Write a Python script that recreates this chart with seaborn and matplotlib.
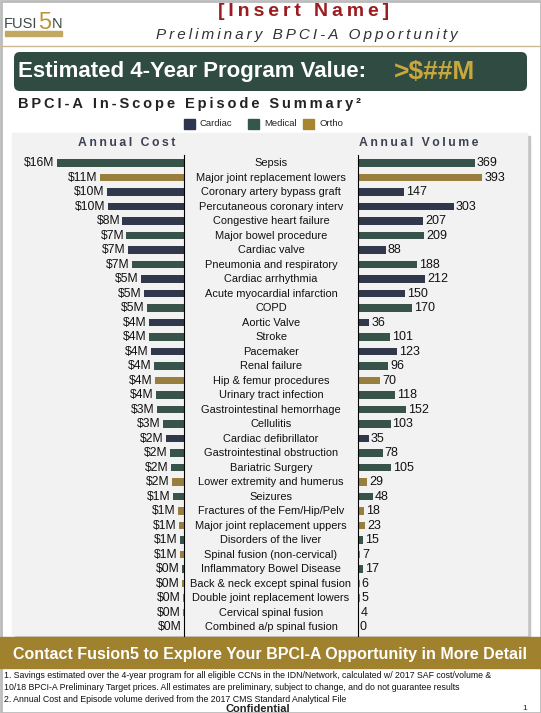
import pandas as pd
import matplotlib
matplotlib.use('Agg')
import matplotlib.pyplot as plt
import seaborn as sns
from matplotlib.patches import Rectangle, FancyBboxPatch
from matplotlib.transforms import blended_transform_factory

# Datos
episodes = ['Sepsis', 'Major joint replacement lowers', 'Coronary artery bypass graft',
            'Percutaneous coronary interv', 'Congestive heart failure', 'Major bowel procedure',
            'Cardiac valve', 'Pneumonia and respiratory', 'Cardiac arrhythmia',
            'Acute myocardial infarction', 'COPD', 'Aortic Valve', 'Stroke', 'Pacemaker',
            'Renal failure', 'Hip & femur procedures', 'Urinary tract infection',
            'Gastrointestinal hemorrhage', 'Cellulitis', 'Cardiac defibrillator',
            'Gastrointestinal obstruction', 'Bariatric Surgery', 'Lower extremity and humerus',
            'Seizures', 'Fractures of the Fem/Hip/Pelv', 'Major joint replacement uppers',
            'Disorders of the liver', 'Spinal fusion (non-cervical)', 'Inflammatory Bowel Disease',
            'Back & neck except spinal fusion', 'Double joint replacement lowers',
            'Cervical spinal fusion', 'Combined a/p spinal fusion']
types = ['Medical', 'Ortho', 'Cardiac', 'Cardiac', 'Cardiac', 'Medical', 'Cardiac', 'Medical',
         'Cardiac', 'Cardiac', 'Medical', 'Cardiac', 'Medical', 'Cardiac', 'Medical', 'Ortho',
         'Medical', 'Medical', 'Medical', 'Cardiac', 'Medical', 'Medical', 'Ortho', 'Medical',
         'Ortho', 'Ortho', 'Medical', 'Ortho', 'Medical', 'Ortho', 'Ortho', 'Ortho', 'Ortho']
cost_m = [16.0, 10.6, 9.75, 9.6, 7.75, 7.25, 7.1, 6.6, 5.4, 5.1, 4.65, 4.4, 4.4, 4.15,
          3.75, 3.66, 3.54, 3.4, 2.67, 2.3, 1.8, 1.67, 1.55, 1.4, 0.75, 0.67, 0.55, 0.55,
          0.3, 0.27, 0.15, 0.15, 0.04]
volume = [369, 393, 147, 303, 207, 209, 88, 188, 212, 150, 170, 36, 101, 123, 96, 70, 118,
          152, 103, 35, 78, 105, 29, 48, 18, 23, 15, 7, 17, 6, 5, 4, 0]

df = pd.DataFrame({'Episode': episodes, 'Tipo': types, 'Costo': cost_m, 'Volumen': volume})
colores = {'Cardiac': '#2E3550', 'Medical': '#34574A', 'Ortho': '#A8852F'}

W, H = 541, 713
fig = plt.figure(figsize=(W / 100, H / 100), dpi=100)
plt.rcParams['font.family'] = ['Liberation Sans', 'DejaVu Sans']


def spaced(s, sep='\u2009'):
    return sep.join(s)


# Fondo en coordenadas de pixel
bg = fig.add_axes([0, 0, 1, 1])
bg.set_xlim(0, W)
bg.set_ylim(H, 0)
bg.axis('off')
bg.add_patch(Rectangle((0.5, 0.5), W - 1, H - 1, fill=False, ec='#BBBBBB', lw=2))

# Encabezado (logo)
bg.text(4, 28, 'FUSI', fontsize=10.5, color='#3D4A44', va='baseline')
bg.text(38.5, 29, '5', fontsize=17, color='#B8963A', va='baseline')
bg.text(52, 28, 'N', fontsize=10.5, color='#3D4A44', va='baseline')
bg.add_patch(Rectangle((5, 31), 57, 5, color='#C2A760'))

bg.text(304, 12, spaced('[Insert Name]'), fontsize=14, fontweight='bold', color='#9B1C1F',
        ha='center', va='center')
bg.text(307, 35, spaced('Preliminary BPCI-A Opportunity'), fontsize=11, style='italic',
        color='#333333', ha='center', va='center')
bg.plot([0, W], [46, 46], color='#C9BC93', lw=1)

bg.add_patch(FancyBboxPatch((14, 52), 513, 39, boxstyle='round,pad=0,rounding_size=6',
                            fc='#2F4B42', ec='none'))
bg.text(18, 72, 'Estimated 4-Year Program Value:', fontsize=16, fontweight='bold',
        color='white', va='center')
bg.text(394, 72, '>$##M', fontsize=19, fontweight='bold', color='#C8A83C', va='center')
bg.text(18, 104, spaced('BPCI-A In-Scope Episode Summary\u00b2'), fontsize=10.5,
        fontweight='bold', color='#222222', va='center')

# Leyenda
for x0, lab in [(184, 'Cardiac'), (248, 'Medical'), (303, 'Ortho')]:
    bg.add_patch(Rectangle((x0, 119), 11, 10, color=colores[lab]))
    bg.text(x0 + 16, 124, lab, fontsize=6.8, color='#222222', va='center')

# Panel gris
bg.add_patch(Rectangle((15, 136), 515, 502, color='#C4C4C4'))
bg.add_patch(Rectangle((12, 133), 515, 502, color='#F2F2F2'))
bg.text(127, 143, spaced('Annual Cost'), fontsize=8.8, fontweight='bold', color='#3C4254',
        ha='center', va='center')
bg.text(419, 143, spaced('Annual Volume'), fontsize=8.8, fontweight='bold', color='#3C4254',
        ha='center', va='center')

# Banda inferior
bg.add_patch(Rectangle((0, 637), W, 31, color='#A0812E'))
bg.text(270, 654, 'Contact Fusion5 to Explore Your BPCI-A Opportunity in More Detail',
        fontsize=11.5, fontweight='bold', color='white', ha='center', va='center')
notas = ['1. Savings estimated over the 4-year program for all eligible CCNs in the IDN/Network, calculated w/ 2017 SAF cost/volume &',
         '10/18 BPCI-A Preliminary Target prices. All estimates are preliminary, subject to change, and do not guarantee results',
         '2. Annual Cost and Episode volume derived from the 2017 CMS Standard Analytical File']
for k, n in enumerate(notas):
    bg.text(4, 675 + 12 * k, n, fontsize=6.3, color='#111111', va='center')
bg.text(258, 709, 'Confidential', fontsize=8, fontweight='bold', color='#222222',
        ha='center', va='center')
bg.text(522, 708, '1', fontsize=6, color='#222222', va='center')

# Barras
y_bot = 1 - 636 / H
h_ax = (636 - 155) / H
ax_l = fig.add_axes([20 / W, y_bot, 164 / W, h_ax])
ax_r = fig.add_axes([358 / W, y_bot, 162 / W, h_ax])

sns.barplot(data=df, x='Costo', y='Episode', hue='Tipo', palette=colores, dodge=False,
            order=episodes, width=0.55, legend=False, ax=ax_l)
sns.barplot(data=df, x='Volumen', y='Episode', hue='Tipo', palette=colores, dodge=False,
            order=episodes, width=0.55, legend=False, ax=ax_r)

ax_l.set_xlim(16 * 164 / 127, 0)
ax_r.set_xlim(0, 162 / 0.316)
for ax in (ax_l, ax_r):
    ax.set_ylim(32.62, -0.552)
    ax.set_facecolor('none')
    ax.set_xticks([])
    ax.set_yticks([])
    ax.set_xlabel('')
    ax.set_ylabel('')
    for s in ax.spines.values():
        s.set_visible(False)
ax_l.spines['right'].set_visible(True)
ax_r.spines['left'].set_visible(True)

for i, (c, v) in enumerate(zip(cost_m, volume)):
    ax_l.text(c + 0.3, i, f'${c:.0f}M', fontsize=8.7, color='#111111', ha='right', va='center')
    ax_r.text(v + 6, i, str(v), fontsize=9, color='#111111', ha='left', va='center')

tr = blended_transform_factory(fig.transFigure, ax_r.transData)
for i, e in enumerate(episodes):
    ax_r.text(271 / W, i, e, fontsize=7.9, color='#111111', ha='center', va='center',
              transform=tr, clip_on=False)

plt.savefig('out.png', dpi=100)
